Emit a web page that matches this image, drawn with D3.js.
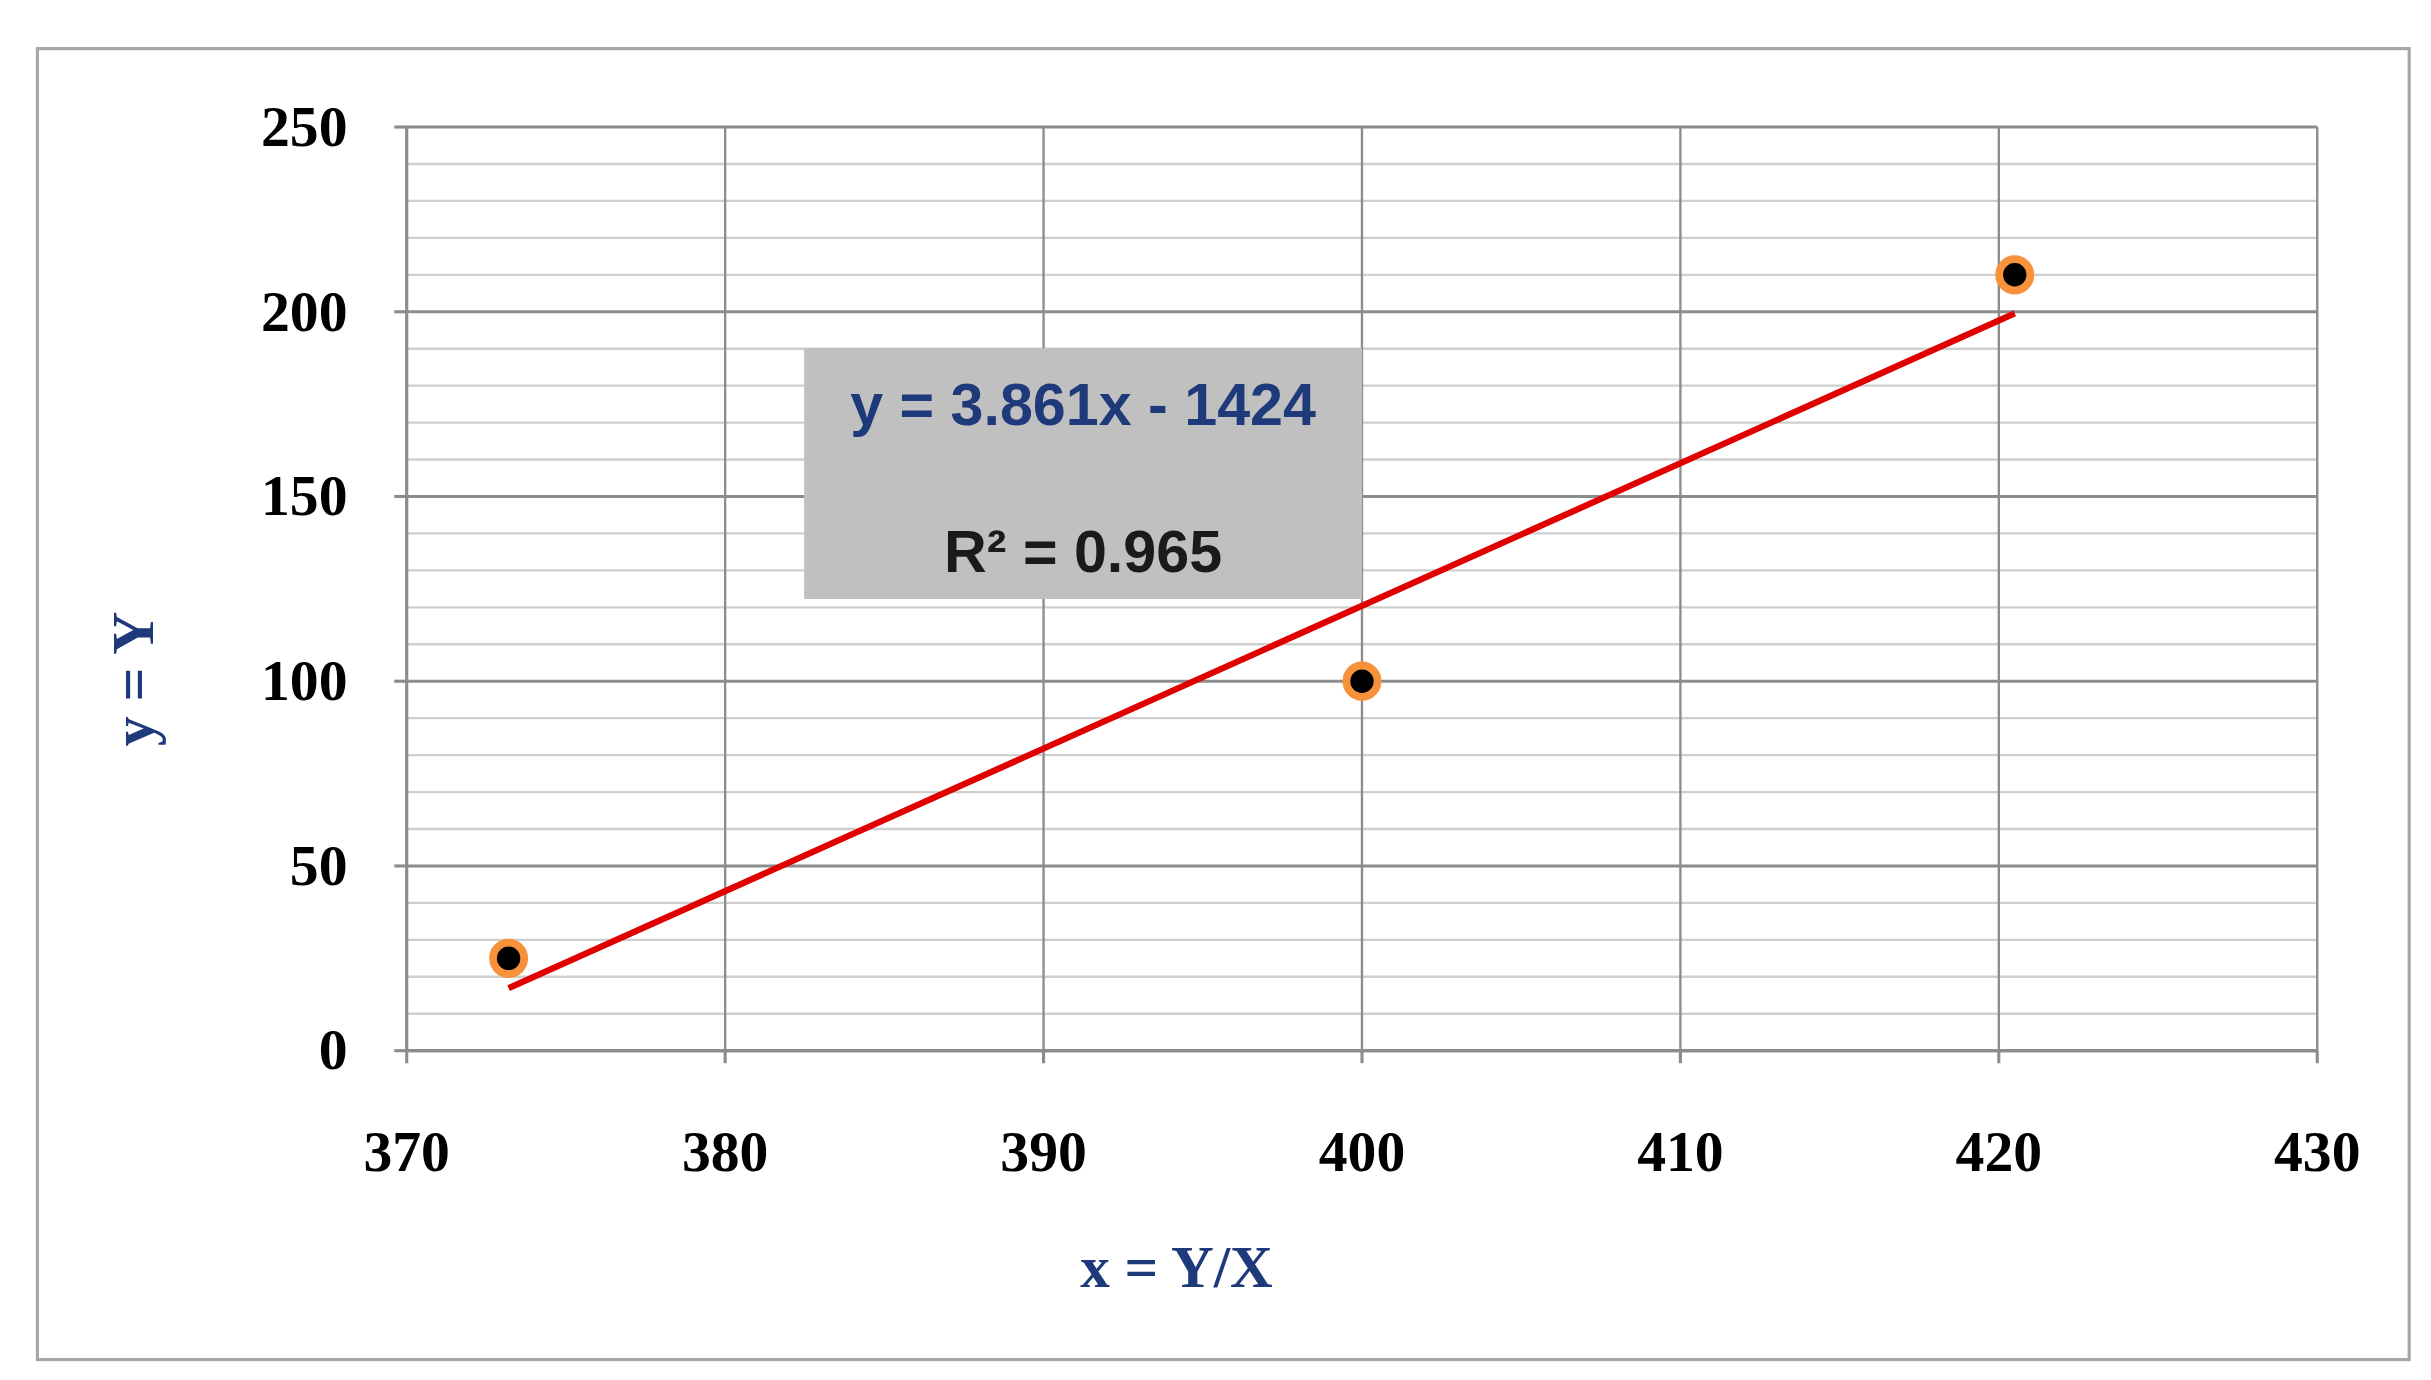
<!DOCTYPE html>
<html><head><meta charset="utf-8">
<script src="https://cdn.jsdelivr.net/npm/d3@7"></script>
<style>html,body{margin:0;padding:0;background:#fff;overflow:hidden}</style>
</head><body>
<script>
const xValues = [373.2, 400, 420.5];
const yValues = [25, 100, 210];
const xTicks = [370, 380, 390, 400, 410, 420, 430];
const yTicks = [0, 50, 100, 150, 200, 250];
const slope = 3.861, intercept = -1424;
const eqLabel = "y = 3.861x - 1424";
const r2Label = "R² = 0.965";
const xTitle = "x = Y/X", yTitle = "y = Y";

const svg = d3.select("body").append("svg")
  .attr("width", 2431).attr("height", 1380)
  .attr("viewBox", "0 0 1560 880").attr("preserveAspectRatio", "none");
svg.append("rect").attr("x", 24).attr("y", 31).attr("width", 1522).attr("height", 836)
  .attr("fill", "#fff").attr("stroke", "#a6a6a6").attr("stroke-width", 2);

const L = 261, R = 1487, T = 81, B = 670;
const x = d3.scaleLinear().domain([370, 430]).range([L, R]);
const y = d3.scaleLinear().domain([0, 250]).range([B, T]);
const g = svg.append("g");

// minor horizontal gridlines
g.selectAll(".minor").data(d3.range(0, 251, 10)).enter().append("line")
  .attr("x1", L).attr("x2", R).attr("y1", d => y(d)).attr("y2", d => y(d))
  .attr("stroke", d => d % 50 === 0 ? "#8c8c8c" : "#cfcfcf").attr("stroke-width", d => d % 50 === 0 ? 2 : 1.5);
g.selectAll(".vg").data(xTicks).enter().append("line")
  .attr("x1", d => x(d)).attr("x2", d => x(d)).attr("y1", T).attr("y2", B)
  .attr("stroke", "#8c8c8c").attr("stroke-width", 1.5);
// axis lines
g.append("line").attr("x1", L).attr("x2", R).attr("y1", B).attr("y2", B).attr("stroke", "#8c8c8c").attr("stroke-width", 2);
g.append("line").attr("x1", L).attr("x2", L).attr("y1", T).attr("y2", B).attr("stroke", "#8c8c8c").attr("stroke-width", 2);
// ticks
g.selectAll(".xt").data(xTicks).enter().append("line")
  .attr("x1", d => x(d)).attr("x2", d => x(d)).attr("y1", B).attr("y2", B + 8).attr("stroke", "#8c8c8c").attr("stroke-width", 2);
g.selectAll(".yt").data(yTicks).enter().append("line")
  .attr("x1", L - 8).attr("x2", L).attr("y1", d => y(d)).attr("y2", d => y(d)).attr("stroke", "#8c8c8c").attr("stroke-width", 2);

const serif = "'Liberation Serif','Times New Roman',serif";
g.selectAll(".xl").data(xTicks).enter().append("text")
  .attr("x", d => x(d)).attr("y", 747).attr("text-anchor", "middle")
  .attr("font-family", serif).attr("font-weight", "bold").attr("font-size", 37).text(d => d);
g.selectAll(".yl").data(yTicks).enter().append("text")
  .attr("x", 223).attr("y", d => y(d) + 12).attr("text-anchor", "end")
  .attr("font-family", serif).attr("font-weight", "bold").attr("font-size", 37).text(d => d);

svg.append("text").attr("x", 755).attr("y", 821).attr("text-anchor", "middle")
  .attr("font-family", serif).attr("font-weight", "bold").attr("font-size", 38).attr("fill", "#1f3a7a").text(xTitle);
svg.append("text").attr("transform", "translate(98,433) rotate(-90)").attr("text-anchor", "middle")
  .attr("font-family", serif).attr("font-weight", "bold").attr("font-size", 38).attr("fill", "#1f3a7a").text(yTitle);

// label box
svg.append("rect").attr("x", 516).attr("y", 222).attr("width", 358).attr("height", 160).attr("fill", "#c0c0c0");
const sans = "'Liberation Sans',Arial,sans-serif";
svg.append("text").attr("x", 695).attr("y", 271).attr("text-anchor", "middle")
  .attr("font-family", sans).attr("font-weight", "bold").attr("font-size", 38).attr("fill", "#1f3a7a").text(eqLabel);
svg.append("text").attr("x", 695).attr("y", 365).attr("text-anchor", "middle")
  .attr("font-family", sans).attr("font-weight", "bold").attr("font-size", 38).attr("fill", "#1a1a1a").text(r2Label);

// trendline
const x0 = d3.min(xValues), x1 = d3.max(xValues);
svg.append("line").attr("x1", x(x0)).attr("y1", y(slope * x0 + intercept))
  .attr("x2", x(x1)).attr("y2", y(slope * x1 + intercept)).attr("stroke", "#e00000").attr("stroke-width", 4);

// points
const pts = xValues.map((v, i) => [v, yValues[i]]);
svg.selectAll(".pt").data(pts).enter().append("circle")
  .attr("cx", d => x(d[0])).attr("cy", d => y(d[1])).attr("r", 10)
  .attr("fill", "#000").attr("stroke", "#f7923a").attr("stroke-width", 5);
</script>
</body></html>
